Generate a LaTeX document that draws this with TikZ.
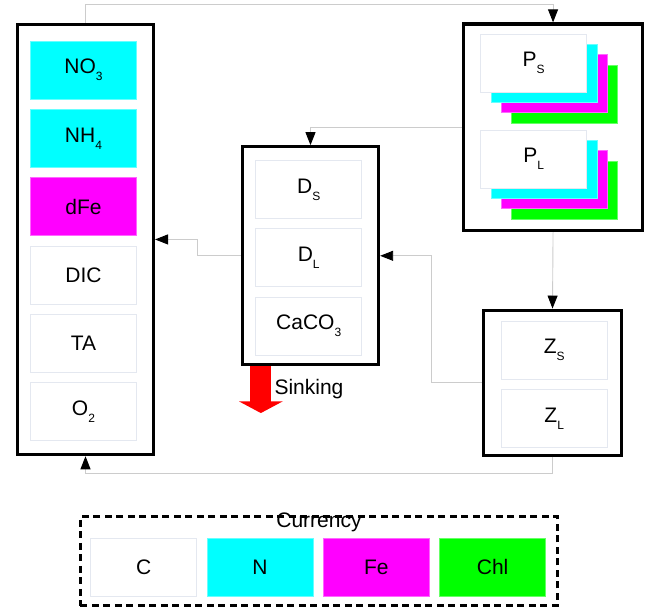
\documentclass[tikz,border=0pt]{standalone}
\usepackage{fontspec}
\setmainfont{Liberation Sans}
\usetikzlibrary{arrows.meta,positioning,calc,fit}
\definecolor{boxedge}{HTML}{E4E8F0}
\definecolor{linkgrey}{HTML}{CCCCCC}
\definecolor{ncol}{RGB}{0,255,255}
\definecolor{fecol}{RGB}{255,0,255}
\definecolor{chlcol}{RGB}{0,255,0}
\newcommand{\lowsub}[1]{\raisebox{-7pt}{\fontsize{12}{13}\selectfont #1}}

\begin{document}
\begin{tikzpicture}[x=1pt, y=-1pt,
  txt/.style={font=\fontsize{21}{25}\selectfont, inner sep=0pt},
  tracer/.style={txt, draw=boxedge, line width=0.8pt, fill=white, minimum width=106pt, minimum height=58pt},
  nbox/.style={tracer, fill=ncol, draw=ncol!60},
  febox/.style={tracer, fill=fecol, draw=fecol!60},
  chlbox/.style={tracer, fill=chlcol, draw=chlcol!60},
  frame/.style={draw, line width=3.3pt, inner sep=0pt},
  flow/.style={draw=linkgrey, line width=0.9pt, -{Triangle[length=13pt, width=10pt, color=black]}},
  sink/.style={draw=red, line width=21pt, -{Triangle[length=11.6pt, width=43pt, color=red]}}
]
\useasboundingbox (0,0) rectangle (646,614);

\node[nbox] (no3) at (83.5,70) {NO\lowsub{3}};
\node[nbox, below=9.5pt of no3] (nh4) {NH\lowsub{4}};
\node[febox, below=9.5pt of nh4] (dfe) {dFe};
\node[tracer, below=9.5pt of dfe] (dic) {DIC};
\node[tracer, below=9.5pt of dic] (ta) {TA};
\node[tracer, below=9.5pt of ta] (o2) {O\lowsub{2}};
\node[frame, fit=(no3)(o2), inner xsep=14.5pt, inner ysep=15pt, xshift=2pt, yshift=1.3pt] (pool) {};

\node[tracer] (ds) at (308.7,189.5) {D\lowsub{S}};
\node[tracer, below=9.5pt of ds] (dl) {D\lowsub{L}};
\node[tracer, below=9.5pt of dl] (caco3) {CaCO\lowsub{3}};
\node[frame, fit=(ds)(caco3), inner xsep=14.6pt, inner ysep=11.3pt, xshift=1.8pt, yshift=2pt] (detritus) {};

\node[chlbox] (ps-chl) at (564.5,94) {};
\node[febox] (ps-fe) at ($(ps-chl)+(-10.3,-10.3)$) {};
\node[nbox] (ps-n) at ($(ps-fe)+(-10.3,-10.3)$) {};
\node[tracer] (ps) at ($(ps-n)+(-10.3,-10.3)$) {P\lowsub{S}};
\node[chlbox] (pl-chl) at (564.5,190) {};
\node[febox] (pl-fe) at ($(pl-chl)+(-10.3,-10.3)$) {};
\node[nbox] (pl-n) at ($(pl-fe)+(-10.3,-10.3)$) {};
\node[tracer] (pl) at ($(pl-n)+(-10.3,-10.3)$) {P\lowsub{L}};
\node[frame, fit=(ps)(pl-chl), inner xsep=20.5pt, inner ysep=10.5pt, xshift=4pt, yshift=-0.8pt] (phyto) {};

\node[tracer] (zs) at (554.2,350) {Z\lowsub{S}};
\node[tracer, below=9.5pt of zs] (zl) {Z\lowsub{L}};
\node[frame, fit=(zs)(zl), inner xsep=15.8pt, inner ysep=9pt, xshift=-1.7pt, yshift=1.4pt] (zoo) {};

\draw[flow] (pool.north) -- ++(0,-18) -| (phyto.north);
\draw[flow] (phyto.west) -| (detritus.north);
\draw[flow] (phyto.south) -- (zoo.north);
\draw[flow] (zoo.west) -- ++(-50.6,0) |- (detritus.east);
\draw[flow] (detritus.west) -- ++(-43,0) |- (pool.east);
\draw[flow] (zoo.south) -- ++(0,16.3) -| (pool.south);

\draw[sink] ($(detritus.south west)+(20,0)$) coordinate (sinktop) -- ++(0,46.6) coordinate (sinktip);
\node[txt, anchor=base west] (sinking) at (274.3,394) {Sinking};

\node[tracer] (cc) at (143.7,567.2) {C};
\node[nbox, right=9.5pt of cc] (cn) {N};
\node[febox, right=9.5pt of cn] (cfe) {Fe};
\node[chlbox, right=9.5pt of cfe] (cchl) {Chl};
\node[frame, dashed, dash pattern=on 7pt off 4.5pt, fit=(cc)(cchl), inner xsep=10.8pt, inner ysep=15pt, xshift=0.8pt, yshift=6pt] (legend) {};
\node[txt, anchor=base] (currency) at ($(legend.north)+(0,12)$) {Currency};

\end{tikzpicture}
\end{document}
